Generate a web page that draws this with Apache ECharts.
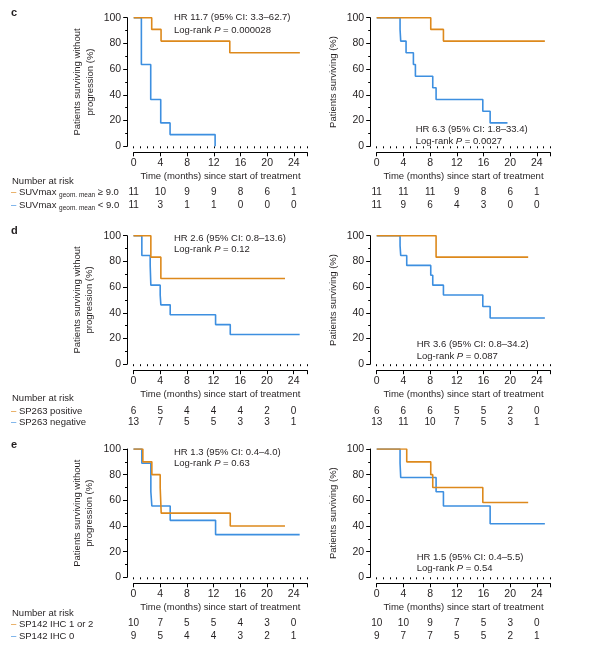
<!DOCTYPE html>
<html><head><meta charset="utf-8">
<script src="https://cdn.jsdelivr.net/npm/echarts@6/dist/echarts.min.js"></script>
<style>html,body{margin:0;padding:0;background:#fff}#c{width:595px;height:653px}</style>
</head><body><div id="c"></div><script>
const ORANGE = '#DD891C', BLUE = '#3D8FE0';
const FONT = '"Liberation Sans", Arial, Helvetica, sans-serif';
const TXT = '#231f20';

// tick labels / risk time points
const riskTimes = [0, 4, 8, 12, 16, 20, 24];

// Panel c: SUVmax geom. mean >= 9.0 (orange) vs < 9.0 (blue)
const cPfsHigh = [[0,100],[2.7,90.9],[4.1,81.8],[14.4,72.7],[24.9,72.7]];
const cPfsLow  = [[0,100],[1.15,63.6],[2.55,36.4],[4.05,18.2],[5.45,9.1],[12.2,0]];
const cOsHigh  = [[0,100],[8.1,90.9],[10.0,81.8],[25.2,81.8]];
const cOsLow   = [[0,100],[3.5,90.9],[3.6,81.8],[4.4,72.7],[5.5,63.6],[5.8,54.5],[8.4,45.5],[8.9,36.4],[15.9,27.3],[17.0,18.2],[19.6,18.2]];
const cPfsRiskHigh = [11,10,9,9,8,6,1];
const cPfsRiskLow  = [11,3,1,1,0,0,0];
const cOsRiskHigh  = [11,11,11,9,8,6,1];
const cOsRiskLow   = [11,9,6,4,3,0,0];

// Panel d: SP263 positive (orange) vs negative (blue)
const dPfsPos = [[0,100],[2.6,83.3],[4.1,66.7],[22.7,66.7]];
const dPfsNeg = [[0,100],[1.25,84.6],[2.5,76.9],[2.6,61.5],[4.0,53.8],[4.1,46.2],[5.5,38.5],[12.3,30.8],[14.5,23.1],[24.9,23.1]];
const dOsPos  = [[0,100],[8.9,83.3],[22.7,83.3]];
const dOsNeg  = [[0,100],[3.5,92.3],[3.6,84.6],[4.5,76.9],[8.1,69.2],[8.4,61.5],[10.0,53.8],[15.9,44.9],[17.0,35.9],[25.2,35.9]];
const dPfsRiskPos = [6,5,4,4,4,2,0];
const dPfsRiskNeg = [13,7,5,5,3,3,1];
const dOsRiskPos  = [6,6,6,5,5,2,0];
const dOsRiskNeg  = [13,11,10,7,5,3,1];

// Panel e: SP142 IHC 1 or 2 (orange) vs IHC 0 (blue)
const ePfsPos = [[0,100],[1.4,90],[2.75,80],[4.0,70],[4.15,50],[14.5,40],[22.7,40]];
const ePfsNeg = [[0,100],[1.25,88.9],[2.6,66.7],[2.75,55.6],[5.5,44.4],[12.3,33.3],[24.9,33.3]];
const eOsPos  = [[0,100],[4.5,90],[8.1,80],[8.4,70],[15.9,58.3],[22.7,58.3]];
const eOsNeg  = [[0,100],[3.5,88.9],[3.6,77.8],[8.9,66.7],[10.0,55.6],[17.0,41.7],[25.2,41.7]];
const ePfsRiskPos = [10,7,5,5,4,3,0];
const ePfsRiskNeg = [9,5,4,4,3,2,1];
const eOsRiskPos  = [10,10,9,7,5,3,0];
const eOsRiskNeg  = [9,7,7,5,5,2,1];

const PFS_NAME = 'Patients surviving without\nprogression (%)';
const OS_NAME = 'Patients surviving (%)';

const panels = [
  {left:133.7, top:17.7, h:128.6, o:cPfsHigh, b:cPfsLow, ro:cPfsRiskHigh, rb:cPfsRiskLow, name:PFS_NAME, r1:46.3, r2:59.4},
  {left:376.7, top:17.7, h:128.6, o:cOsHigh,  b:cOsLow,  ro:cOsRiskHigh,  rb:cOsRiskLow,  name:OS_NAME,  r1:46.3, r2:59.4},
  {left:133.5, top:235.7, h:128.5, o:dPfsPos, b:dPfsNeg, ro:dPfsRiskPos, rb:dPfsRiskNeg, name:PFS_NAME, r1:47.1, r2:58.3},
  {left:376.7, top:235.7, h:128.5, o:dOsPos,  b:dOsNeg,  ro:dOsRiskPos,  rb:dOsRiskNeg,  name:OS_NAME,  r1:47.1, r2:58.3},
  {left:133.5, top:449.0, h:128.3, o:ePfsPos, b:ePfsNeg, ro:ePfsRiskPos, rb:ePfsRiskNeg, name:PFS_NAME, r1:46.2, r2:59.4},
  {left:376.7, top:449.0, h:128.3, o:eOsPos,  b:eOsNeg,  ro:eOsRiskPos,  rb:eOsRiskNeg,  name:OS_NAME,  r1:46.2, r2:59.4}
];

const grid = [], xAxis = [], yAxis = [], series = [];
const axisLineStyle = {color:'#000', width:1};
panels.forEach((p, i) => {
  grid.push({left:p.left, top:p.top, width:173.5, height:p.h, containLabel:false});
  const base = xAxis.length;
  xAxis.push({type:'value', gridIndex:i, min:0, max:26, interval:4, offset:6, position:'bottom',
    axisLine:{show:true, onZero:false, lineStyle:axisLineStyle},
    axisTick:{show:true, length:4, lineStyle:axisLineStyle},
    splitLine:{show:false},
    axisLabel:{margin:5, fontSize:10.5, color:TXT, fontFamily:FONT, formatter:v => v <= 24 ? String(v) : ''},
    name:'Time (months) since start of treatment', nameLocation:'middle', nameGap:19,
    nameTextStyle:{fontSize:9.5, color:TXT, fontFamily:FONT}});
  xAxis.push({type:'value', gridIndex:i, min:0, max:26, interval:1, offset:6, position:'bottom',
    axisLine:{show:false}, axisTick:{show:true, length:2, lineStyle:axisLineStyle},
    splitLine:{show:false}, axisLabel:{show:false}});
  [[p.ro, p.r1], [p.rb, p.r2]].forEach(([arr, off]) => {
    xAxis.push({type:'value', gridIndex:i, min:0, max:26, interval:4, offset:off, position:'bottom',
      axisLine:{show:false}, axisTick:{show:false}, splitLine:{show:false},
      axisLabel:{margin:0, verticalAlign:'middle', fontSize:10, color:TXT, fontFamily:FONT,
        formatter:v => { const k = riskTimes.indexOf(v); return k >= 0 ? String(arr[k]) : ''; }}});
  });
  yAxis.push({type:'value', gridIndex:i, min:0, max:100, interval:20, offset:6.5, position:'left',
    axisLine:{show:true, onZero:false, lineStyle:axisLineStyle},
    axisTick:{show:true, length:4, lineStyle:axisLineStyle},
    minorTick:{show:true, splitNumber:2, length:2, lineStyle:axisLineStyle},
    splitLine:{show:false}, minorSplitLine:{show:false},
    axisLabel:{margin:6, fontSize:10.5, color:TXT, fontFamily:FONT},
    name:p.name, nameLocation:'middle', nameRotate:90, nameGap:31,
    nameTextStyle:{fontSize:9.5, color:TXT, fontFamily:FONT, lineHeight:12.3, align:'center'}});
  series.push({type:'line', xAxisIndex:base, yAxisIndex:i, data:p.b, step:'end', symbol:'none',
    lineStyle:{color:BLUE, width:1.6}, itemStyle:{color:BLUE}, animation:false, silent:true});
  series.push({type:'line', xAxisIndex:base, yAxisIndex:i, data:p.o, step:'end', symbol:'none',
    lineStyle:{color:ORANGE, width:1.6}, itemStyle:{color:ORANGE}, animation:false, silent:true});
});

function txt(x, y, text, extra) {
  return {type:'text', x:x, y:y, silent:true,
    style:Object.assign({text:text, fill:TXT, fontSize:9.5, fontFamily:FONT, verticalAlign:'middle', align:'left'}, extra || {})};
}
function hr(x, y1, y2, l1, pval) {
  return [
    txt(x, y1, l1),
    txt(x, y2, '{t|Log-rank }{i|P}{t| = ' + pval + '}', {rich:{
      t:{fontSize:9.5, fontFamily:FONT, fill:TXT},
      i:{fontSize:9.5, fontFamily:FONT, fontStyle:'italic', fill:TXT}}})
  ];
}
const richRow = {
  o:{fontSize:9.5, fontFamily:FONT, fill:ORANGE},
  b:{fontSize:9.5, fontFamily:FONT, fill:BLUE},
  t:{fontSize:9.5, fontFamily:FONT, fill:TXT},
  s:{fontSize:6.5, fontFamily:FONT, fill:TXT, padding:[5,0,0,0]}
};
const graphic = [
  txt(11, 12.7, 'c', {fontWeight:'bold', fontSize:11}),
  txt(11, 231, 'd', {fontWeight:'bold', fontSize:11}),
  txt(11, 445, 'e', {fontWeight:'bold', fontSize:11}),
  ...hr(174, 17.7, 30, 'HR 11.7 (95% CI: 3.3–62.7)', '0.000028'),
  ...hr(415.7, 129.3, 141.7, 'HR 6.3 (95% CI: 1.8–33.4)', '0.0027'),
  ...hr(174, 238, 249.5, 'HR 2.6 (95% CI: 0.8–13.6)', '0.12'),
  ...hr(416.7, 344, 356, 'HR 3.6 (95% CI: 0.8–34.2)', '0.087'),
  ...hr(174, 452, 463.5, 'HR 1.3 (95% CI: 0.4–4.0)', '0.63'),
  ...hr(416.7, 557.7, 568.5, 'HR 1.5 (95% CI: 0.4–5.5)', '0.54'),
  txt(12, 181.7, 'Number at risk'),
  txt(11, 192.7, '{o|–}{t| SUVmax }{s|geom. mean}{t| ≥ 9.0}', {rich:richRow}),
  txt(11, 205.8, '{b|–}{t| SUVmax }{s|geom. mean}{t| < 9.0}', {rich:richRow}),
  txt(12, 398.3, 'Number at risk'),
  txt(11, 411.3, '{o|–}{t| SP263 positive}', {rich:richRow}),
  txt(11, 422.5, '{b|–}{t| SP263 negative}', {rich:richRow}),
  txt(12, 613, 'Number at risk'),
  txt(11, 624, '{o|–}{t| SP142 IHC 1 or 2}', {rich:richRow}),
  txt(11, 636.7, '{b|–}{t| SP142 IHC 0}', {rich:richRow})
];

const chart = echarts.init(document.getElementById('c'), null, {renderer:'canvas'});
chart.setOption({animation:false, backgroundColor:'#fff', grid, xAxis, yAxis, series, graphic});
</script></body></html>
